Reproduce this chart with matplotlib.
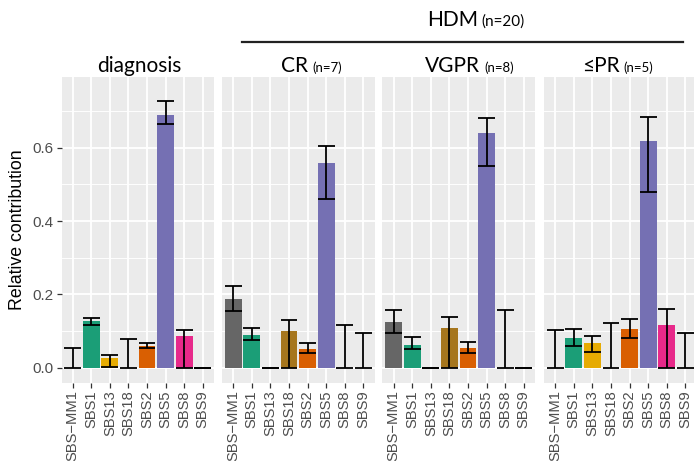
import numpy as np
import matplotlib.pyplot as plt

signatures = ["SBS\u2212MM1", "SBS1", "SBS13", "SBS18", "SBS2", "SBS5", "SBS8", "SBS9"]
colors = ["#666666", "#1B9E77", "#E6AB02", "#A6761D", "#D95F02", "#7570B3", "#E7298A", "#666666"]

groups = ["diagnosis", "CR", "VGPR", "\u2264PR"]
group_n = ["", "(n=7)", "(n=8)", "(n=5)"]

# mean relative contribution and bootstrap interval per group
diag_mean = [0.0, 0.127, 0.026, 0.0, 0.058, 0.691, 0.086, 0.0]
diag_lo = [0.0, 0.116, 0.002, 0.0, 0.052, 0.666, 0.0, 0.0]
diag_hi = [0.054, 0.136, 0.033, 0.077, 0.068, 0.729, 0.103, 0.0]

cr_mean = [0.187, 0.089, 0.0, 0.101, 0.051, 0.560, 0.0, 0.0]
cr_lo = [0.155, 0.074, 0.0, 0.0, 0.039, 0.460, 0.0, 0.0]
cr_hi = [0.223, 0.108, 0.0, 0.129, 0.068, 0.604, 0.116, 0.095]

vgpr_mean = [0.125, 0.062, 0.0, 0.108, 0.054, 0.642, 0.0, 0.0]
vgpr_lo = [0.095, 0.050, 0.0, 0.0, 0.040, 0.550, 0.0, 0.0]
vgpr_hi = [0.157, 0.083, 0.0, 0.137, 0.071, 0.682, 0.157, 0.0]

pr_mean = [0.0, 0.081, 0.067, 0.0, 0.105, 0.620, 0.116, 0.0]
pr_lo = [0.0, 0.058, 0.043, 0.0, 0.081, 0.479, 0.0, 0.0]
pr_hi = [0.103, 0.106, 0.087, 0.122, 0.132, 0.685, 0.160, 0.095]

means = [diag_mean, cr_mean, vgpr_mean, pr_mean]
lows = [diag_lo, cr_lo, vgpr_lo, pr_lo]
highs = [diag_hi, cr_hi, vgpr_hi, pr_hi]

W, H = 694, 461
fig = plt.figure(figsize=(W / 100, H / 100), dpi=100)
renderer = fig.canvas.get_renderer()

title_font = "Lato"
tick_font = "Liberation Sans"

panel_left = [61.5, 222, 382.5, 544]
panel_w = 152.5
panel_top, panel_bot = 76.5, 382.7
# left edge of each strip title, in pixels
title_left = [96.7, 281.5, 425, 582]

x = np.arange(len(signatures))
axes = []
for i in range(4):
    ax = fig.add_axes([panel_left[i] / W, 1 - panel_bot / H,
                       panel_w / W, (panel_bot - panel_top) / H])
    ax.set_facecolor("#EBEBEB")
    ax.set_xlim(-0.6, len(signatures) - 0.4)
    ax.set_ylim(-0.0415, 0.795)
    ax.set_yticks([0, 0.2, 0.4, 0.6])
    ax.set_yticks([0.1, 0.3, 0.5, 0.7], minor=True)
    ax.set_xticks(x)
    ax.grid(which="major", color="white", lw=1.3)
    ax.grid(which="minor", axis="y", color="white", lw=0.65)
    ax.set_axisbelow(True)
    for s in ax.spines.values():
        s.set_visible(False)

    m = np.array(means[i])
    lo = np.array(lows[i])
    hi = np.array(highs[i])
    ax.bar(x, m, width=0.9, color=colors, zorder=2)
    ax.vlines(x, lo, hi, color="black", lw=1.3, zorder=3)
    ax.hlines(lo, x - 0.45, x + 0.45, color="black", lw=1.3, zorder=3)
    ax.hlines(hi, x - 0.45, x + 0.45, color="black", lw=1.3, zorder=3)

    ax.set_xticklabels(signatures, rotation=90, fontfamily=tick_font,
                       fontsize=10.6, color="#4D4D4D")
    ax.tick_params(axis="both", which="major", color="#333333", length=3.5,
                   width=0.9, pad=2)
    ax.tick_params(axis="y", which="minor", length=0)
    if i == 0:
        ax.set_yticklabels(["0.0", "0.2", "0.4", "0.6"], fontfamily=tick_font,
                           fontsize=11, color="#4D4D4D")
        ax.set_ylabel("Relative contribution", fontfamily=tick_font,
                      fontsize=12.8, labelpad=5)
    else:
        ax.tick_params(axis="y", which="major", length=0, labelleft=False)
    axes.append(ax)


def two_part_title(left, y, big, small, big_size, small_size, gap=4):
    t1 = fig.text(left / W, 1 - y / H, big, fontsize=big_size, family=title_font,
                  ha="left", va="baseline")
    if small:
        w1 = t1.get_window_extent(renderer).width
        fig.text((left + w1 + gap) / W, 1 - y / H, small, fontsize=small_size,
                 family=title_font, ha="left", va="baseline")


for i in range(4):
    two_part_title(title_left[i], 71.5, groups[i], group_n[i], 15, 9.5)

# bracket over the HDM panels
two_part_title(426.7, 26, "HDM", "(n=20)", 15, 11)
fig.add_artist(plt.Line2D([242 / W, 683 / W], [1 - 42.3 / H, 1 - 42.3 / H],
                          color="#222222", lw=1.6))

fig.savefig("out.png", dpi=100)
